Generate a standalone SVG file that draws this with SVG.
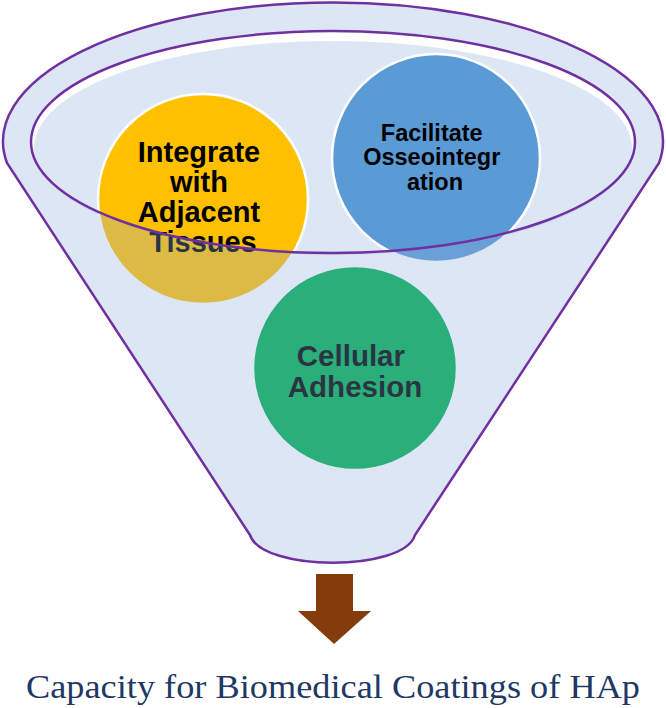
<svg xmlns="http://www.w3.org/2000/svg" width="666" height="708" viewBox="0 0 666 708">
  <style>
    .node-circle { stroke: #ffffff; stroke-width: 2.5; }
    .node-text { font-family: "Liberation Sans", Arial, sans-serif; font-weight: bold; fill: #000000; text-anchor: middle; }
    .outline { fill: none; stroke: #7030A0; stroke-width: 2.5; }
    .title { font-family: "Liberation Serif", "Times New Roman", serif; fill: #1F3864; text-anchor: middle; }
  </style>
  <rect x="0" y="0" width="666" height="708" fill="#ffffff"/>

  <g id="funnel-back">
    <ellipse cx="333" cy="142" rx="302" ry="111" fill="#ffffff"/>
    <ellipse cx="333" cy="148" rx="299" ry="107" fill="#DDE6F5"/>
  </g>

  <g id="node-integrate">
    <circle class="node-circle" cx="203" cy="199" r="105" fill="#FFC000"/>
    <text class="node-text" font-size="29">
      <tspan x="203" y="162">Integrate</tspan>
      <tspan x="203" y="192">with</tspan>
      <tspan x="203" y="222">Adjacent</tspan>
      <tspan x="203" y="252">Tissues</tspan>
    </text>
  </g>

  <g id="node-facilitate">
    <circle class="node-circle" cx="436" cy="158" r="104" fill="#5B9BD5"/>
    <text class="node-text" font-size="23.5">
      <tspan x="435" y="141">Facilitate</tspan>
      <tspan x="435" y="165">Osseointegr</tspan>
      <tspan x="435" y="190">ation</tspan>
    </text>
  </g>

  <g id="node-adhesion">
    <circle class="node-circle" cx="355" cy="368" r="102" fill="#00B050"/>
    <text class="node-text" font-size="29.5">
      <tspan x="355" y="366">Cellular</tspan>
      <tspan x="355" y="397">Adhesion</tspan>
    </text>
  </g>

  <g id="funnel-front">
    <path d="M 7 163 A 330 139 0 1 1 659 163 L 415 535 C 404 572 262 572 250 535 Z M 31 142 A 302 111 0 1 0 635 142 A 302 111 0 1 0 31 142 Z"
          fill="#8EACDE" fill-opacity="0.3" fill-rule="evenodd" stroke="none"/>
    <path class="outline" d="M 7 163 A 330 139 0 1 1 659 163 L 415 535 C 404 572 262 572 250 535 Z"/>
    <ellipse class="outline" cx="333" cy="142" rx="302" ry="111"/>
  </g>

  <g id="connectors">
    <polygon points="316,574 353,574 353,611 371,611 334,644 298,611 316,611" fill="#843C0C"/>
  </g>

  <g id="title">
    <text class="title" x="333" y="698" font-size="34" textLength="614" lengthAdjust="spacingAndGlyphs">Capacity for Biomedical Coatings of HAp</text>
  </g>
</svg>
